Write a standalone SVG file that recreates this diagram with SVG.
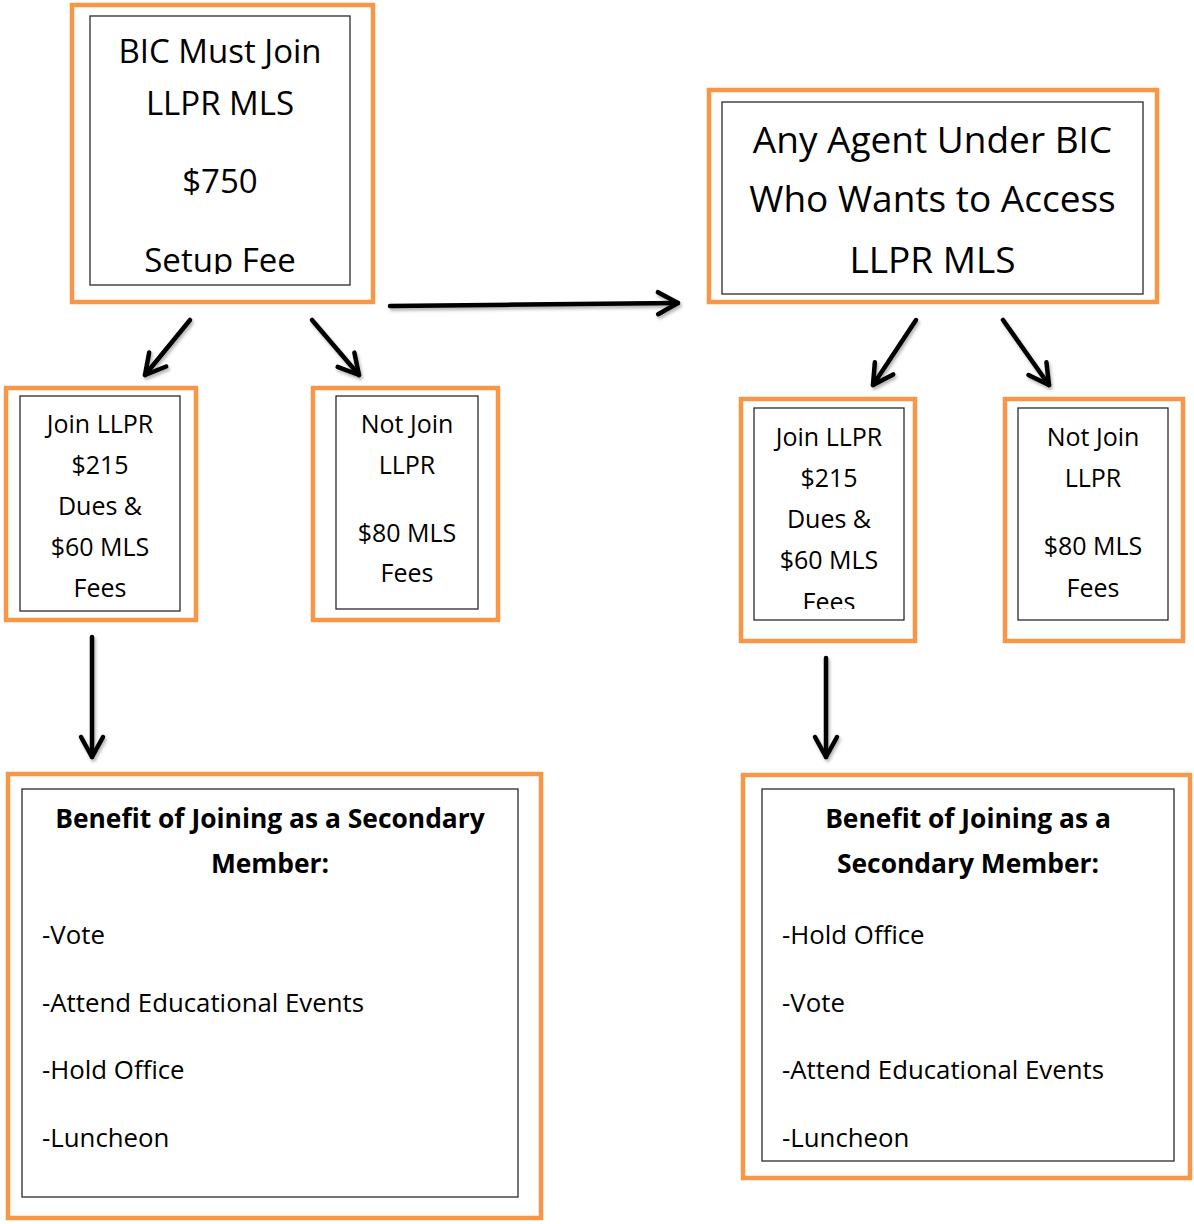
<svg xmlns="http://www.w3.org/2000/svg" width="1194" height="1224" viewBox="0 0 1194 1224">
  <style>
    .outer { fill: none; stroke: #F79646; stroke-width: 4.5; }
    .inner { fill: #FFFFFF; stroke: #2a2a2a; stroke-width: 1.3; }
    .t { font-family: "Open Sans", "Noto Sans", "DejaVu Sans", sans-serif; fill: #000000; }
    .c { text-anchor: middle; }
    .b { font-weight: bold; }
    .conn { fill: none; stroke: #000000; stroke-width: 4.5; stroke-linecap: round; }
  </style>
  <defs>
    <marker id="chev" viewBox="-28 -16 32 32" markerWidth="32" markerHeight="32" refX="0" refY="0" orient="auto" markerUnits="userSpaceOnUse">
      <path d="M-20,-11 L0,0 L-20,11" fill="none" stroke="#000000" stroke-width="4.5" stroke-linecap="round" stroke-linejoin="round"/>
    </marker>
    <filter id="shadow" x="-20%" y="-20%" width="140%" height="140%">
      <feDropShadow dx="1.5" dy="2.5" stdDeviation="1.5" flood-color="#000000" flood-opacity="0.3"/>
    </filter>
    <clipPath id="clip1"><rect x="90" y="16" width="260" height="258"/></clipPath>
    <clipPath id="clip5"><rect x="754" y="408" width="150" height="201"/></clipPath>
  </defs>
  <rect width="1194" height="1224" fill="#FFFFFF"/>

  <g id="connectors" filter="url(#shadow)">
    <line class="conn" x1="390" y1="306" x2="678" y2="303" marker-end="url(#chev)"/>
    <line class="conn" x1="190" y1="320" x2="145" y2="375" marker-end="url(#chev)"/>
    <line class="conn" x1="312" y1="320" x2="359" y2="375" marker-end="url(#chev)"/>
    <line class="conn" x1="916" y1="320" x2="873" y2="385" marker-end="url(#chev)"/>
    <line class="conn" x1="1003" y1="320" x2="1049" y2="385" marker-end="url(#chev)"/>
    <line class="conn" x1="92" y1="637" x2="92" y2="757" marker-end="url(#chev)"/>
    <line class="conn" x1="826" y1="658" x2="826" y2="757" marker-end="url(#chev)"/>
  </g>

  <g id="node-bic-must-join">
    <rect class="outer" x="72" y="5" width="301" height="297"/>
    <rect class="inner" x="90" y="16" width="260" height="269"/>
    <g clip-path="url(#clip1)">
      <text class="t c" x="220" y="63" font-size="33">BIC Must Join</text>
      <text class="t c" x="220" y="115" font-size="33">LLPR MLS</text>
      <text class="t c" x="220" y="193" font-size="33">$750</text>
      <text class="t c" x="220" y="272" font-size="33">Setup Fee</text>
    </g>
  </g>

  <g id="node-any-agent">
    <rect class="outer" x="709" y="90" width="448" height="212"/>
    <rect class="inner" x="722" y="102" width="421" height="192"/>
    <text class="t c" x="932.5" y="153" font-size="37">Any Agent Under BIC</text>
    <text class="t c" x="932.5" y="212" font-size="37">Who Wants to Access</text>
    <text class="t c" x="932.5" y="273" font-size="37">LLPR MLS</text>
  </g>

  <g id="node-join-left">
    <rect class="outer" x="6" y="388" width="190" height="232"/>
    <rect class="inner" x="20" y="396" width="160" height="215"/>
    <text class="t c" x="100" y="433" font-size="25">Join LLPR</text>
    <text class="t c" x="100" y="474" font-size="25">$215</text>
    <text class="t c" x="100" y="515" font-size="25">Dues &amp;</text>
    <text class="t c" x="100" y="556" font-size="25">$60 MLS</text>
    <text class="t c" x="100" y="597" font-size="25">Fees</text>
  </g>

  <g id="node-notjoin-left">
    <rect class="outer" x="313" y="388" width="185" height="232"/>
    <rect class="inner" x="336" y="396" width="142" height="213"/>
    <text class="t c" x="407" y="433" font-size="25">Not Join</text>
    <text class="t c" x="407" y="474" font-size="25">LLPR</text>
    <text class="t c" x="407" y="542" font-size="25">$80 MLS</text>
    <text class="t c" x="407" y="582" font-size="25">Fees</text>
  </g>

  <g id="node-join-right">
    <rect class="outer" x="741" y="399" width="174" height="242"/>
    <rect class="inner" x="754" y="408" width="150" height="212"/>
    <g clip-path="url(#clip5)">
      <text class="t c" x="829" y="446" font-size="25">Join LLPR</text>
      <text class="t c" x="829" y="487" font-size="25">$215</text>
      <text class="t c" x="829" y="528" font-size="25">Dues &amp;</text>
      <text class="t c" x="829" y="569" font-size="25">$60 MLS</text>
      <text class="t c" x="829" y="611" font-size="25">Fees</text>
    </g>
  </g>

  <g id="node-notjoin-right">
    <rect class="outer" x="1005" y="399" width="178" height="242"/>
    <rect class="inner" x="1018" y="408" width="150" height="212"/>
    <text class="t c" x="1093" y="446" font-size="25">Not Join</text>
    <text class="t c" x="1093" y="487" font-size="25">LLPR</text>
    <text class="t c" x="1093" y="555" font-size="25">$80 MLS</text>
    <text class="t c" x="1093" y="597" font-size="25">Fees</text>
  </g>

  <g id="node-benefit-left">
    <rect class="outer" x="8" y="774" width="533" height="444"/>
    <rect class="inner" x="22" y="789" width="496" height="408"/>
    <text class="t c b" x="270" y="828" font-size="26.4">Benefit of Joining as a Secondary</text>
    <text class="t c b" x="270" y="873" font-size="26.4">Member:</text>
    <text class="t" x="42" y="944" font-size="25.8">-Vote</text>
    <text class="t" x="42" y="1012" font-size="25.8">-Attend Educational Events</text>
    <text class="t" x="42" y="1079" font-size="25.8">-Hold Office</text>
    <text class="t" x="42" y="1147" font-size="25.8">-Luncheon</text>
  </g>

  <g id="node-benefit-right">
    <rect class="outer" x="743" y="775" width="447" height="403"/>
    <rect class="inner" x="762" y="789" width="412" height="372"/>
    <text class="t c b" x="968" y="828" font-size="26.4">Benefit of Joining as a</text>
    <text class="t c b" x="968" y="873" font-size="26.4">Secondary Member:</text>
    <text class="t" x="782" y="944" font-size="25.8">-Hold Office</text>
    <text class="t" x="782" y="1012" font-size="25.8">-Vote</text>
    <text class="t" x="782" y="1079" font-size="25.8">-Attend Educational Events</text>
    <text class="t" x="782" y="1147" font-size="25.8">-Luncheon</text>
  </g>
</svg>
